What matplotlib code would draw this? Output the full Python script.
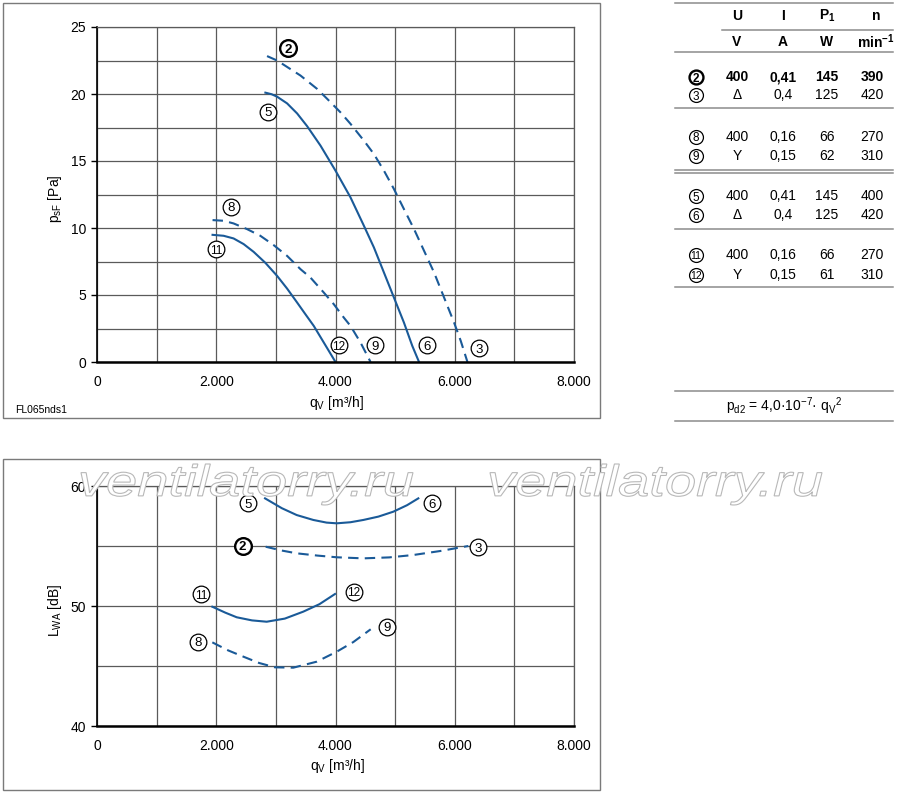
import numpy as np
import matplotlib
matplotlib.use('Agg')
import matplotlib.pyplot as plt
import matplotlib.transforms as mtransforms
from matplotlib.textpath import TextPath
from matplotlib.patches import PathPatch, Rectangle
from matplotlib.font_manager import FontProperties

plt.rcParams['font.family'] = ['Liberation Sans', 'DejaVu Sans']
plt.rcParams['mathtext.default'] = 'regular'

BLUE = '#1a5a98'
GRID = '#5a5a5a'
LINE = '#8c8c8c'

# ---- Kennlinien (Druck) ----
q_2_3 = [2852, 3020, 3412, 3692, 3860, 4084, 4252, 4476, 4644, 4812, 4980,
         5148, 5317, 5485, 5653, 5821, 5989, 6101, 6213]
p_2_3 = [22.83, 22.50, 21.38, 20.38, 19.64, 18.63, 17.77, 16.52, 15.52, 14.28, 12.91,
         11.41, 9.92, 8.30, 6.68, 4.81, 2.94, 1.57, 0.0]
q_5_6 = [2824, 2930, 3020, 3188, 3356, 3524, 3748, 4000, 4252, 4476, 4644, 4812,
         4980, 5148, 5288, 5401]
p_5_6 = [20.10, 19.98, 19.80, 19.30, 18.55, 17.60, 16.15, 14.28, 12.28, 10.17, 8.55, 6.68,
         4.81, 2.94, 1.20, 0.0]
q_8_9 = [1938, 2123, 2291, 2515, 2739, 2964, 3188, 3412, 3580, 3804, 3972,
         4140, 4252, 4420, 4588]
p_8_9 = [10.59, 10.54, 10.34, 9.92, 9.42, 8.72, 7.92, 6.93, 6.30, 5.18, 4.31,
         3.31, 2.69, 1.45, 0.0]
q_11_12 = [1938, 2123, 2291, 2459, 2627, 2824, 3020, 3188, 3356, 3496, 3636,
           3804, 4000]
p_11_12 = [9.49, 9.42, 9.22, 8.80, 8.22, 7.40, 6.43, 5.48, 4.44, 3.56, 2.69,
           1.45, 0.0]

# ---- Schallleistung ----
lq_5_6 = [2818, 3100, 3349, 3628, 3850, 4020, 4250, 4467, 4720, 4970, 5200, 5389]
lw_5_6 = [58.97, 58.15, 57.58, 57.17, 56.95, 56.89, 56.98, 57.17, 57.45, 57.86, 58.4, 58.97]
lq_2_3 = [2829, 3100, 3349, 3700, 4020, 4467, 4900, 5305, 5753, 6228]
lw_2_3 = [54.94, 54.62, 54.39, 54.2, 54.06, 53.97, 54.05, 54.25, 54.58, 55.0]
lq_11_12 = [1934, 2150, 2343, 2600, 2846, 3150, 3460, 3730, 3992]
lw_11_12 = [49.94, 49.45, 49.06, 48.8, 48.69, 48.95, 49.53, 50.15, 51.0]
lq_8_9 = [1934, 2200, 2454, 2720, 2985, 3292, 3685, 4020, 4300, 4590]
lw_8_9 = [46.97, 46.3, 45.78, 45.25, 44.89, 44.86, 45.36, 46.19, 47.0, 48.06]

# Kreisnummern an den Kurven
lbl_top = ['2', '5', '8', '11', '12', '9', '6', '3']
lbl_top_q = [3199, 2868, 2246, 1994, 4056, 4661, 5541, 6407]
lbl_top_p = [23.42, 18.69, 11.59, 8.42, 1.25, 1.25, 1.25, 1.04]
lbl_bot = ['5', '6', '2', '3', '11', '12', '8', '9']
lbl_bot_q = [2538, 5613, 2443, 6395, 1744, 4310, 1699, 4858]
lbl_bot_l = [58.56, 58.56, 55.0, 54.89, 50.97, 51.19, 47.03, 48.28]

# Tabelle
tbl_ids = ['2', '3', '8', '9', '5', '6', '11', '12']
tbl_U = ['400', 'Δ', '400', 'Y', '400', 'Δ', '400', 'Y']
tbl_I = ['0,41', '0,4', '0,16', '0,15', '0,41', '0,4', '0,16', '0,15']
tbl_P = ['145', '125', '66', '62', '145', '125', '66', '61']
tbl_n = ['390', '420', '270', '310', '400', '420', '270', '310']

xticks_major = [0, 2000, 4000, 6000, 8000]
xtick_labels = ['0', '2.000', '4.000', '6.000', '8.000']


def circ(ax, x, y, s, bold=False, ms=12, fs=9.5, transform=None):
    kw = {} if transform is None else {'transform': transform}
    ax.plot([x], [y], 'o', ms=ms, mfc='white', mec='black',
            mew=1.7 if bold else 0.9, zorder=6, clip_on=False, **kw)
    ax.text(x, y, s, ha='center', va='center_baseline', fontsize=fs if len(s) == 1 else fs - 1,
            fontweight='bold' if bold else 'normal', zorder=7, clip_on=False, **kw)


def style_axes(ax, ymaj, ymin):
    ax.set_xlim(0, 8000)
    ax.set_xticks(xticks_major)
    ax.set_xticklabels(xtick_labels)
    ax.set_xticks([1000, 3000, 5000, 7000], minor=True)
    ax.set_yticks(ymaj)
    ax.set_yticks(ymin, minor=True)
    ax.grid(which='both', color=GRID, lw=0.9)
    ax.set_axisbelow(True)
    ax.tick_params(axis='x', which='both', length=0, pad=9, labelsize=10)
    ax.tick_params(axis='y', which='major', length=4, width=1, pad=4, labelsize=10)
    ax.tick_params(axis='y', which='minor', length=0)
    ax.spines['left'].set_color('black')
    ax.spines['left'].set_linewidth(1.2)
    ax.spines['bottom'].set_color('black')
    ax.spines['bottom'].set_linewidth(1.8)
    for s in ['top', 'right']:
        ax.spines[s].set_color(GRID)
        ax.spines[s].set_linewidth(0.9)


fig = plt.figure(figsize=(9, 7.97), dpi=100)
ax1 = fig.add_axes([97 / 900, 1 - 362 / 797, 477 / 900, 335 / 797])
ax2 = fig.add_axes([97 / 900, 1 - 726 / 797, 477 / 900, 240 / 797])

# --- oben: Druck ---
ax1.set_ylim(0, 25)
style_axes(ax1, [0, 5, 10, 15, 20, 25], [2.5, 7.5, 12.5, 17.5, 22.5])
ax1.plot(q_2_3, p_2_3, color=BLUE, lw=1.5, dashes=(5, 3))
ax1.plot(q_5_6, p_5_6, color=BLUE, lw=1.5)
ax1.plot(q_8_9, p_8_9, color=BLUE, lw=1.5, dashes=(5, 3))
ax1.plot(q_11_12, p_11_12, color=BLUE, lw=1.5)
for s, x, y in zip(lbl_top, lbl_top_q, lbl_top_p):
    circ(ax1, x, y, s, bold=(s == '2'))

# --- unten: Schall ---
ax2.set_ylim(40, 60)
style_axes(ax2, [40, 50, 60], [45, 55])
ax2.plot(lq_5_6, lw_5_6, color=BLUE, lw=1.5)
ax2.plot(lq_2_3, lw_2_3, color=BLUE, lw=1.5, dashes=(5, 3))
ax2.plot(lq_11_12, lw_11_12, color=BLUE, lw=1.5)
ax2.plot(lq_8_9, lw_8_9, color=BLUE, lw=1.5, dashes=(5, 3))
for s, x, y in zip(lbl_bot, lbl_bot_q, lbl_bot_l):
    circ(ax2, x, y, s, bold=(s == '2'))

# --- Overlay in Pixelkoordinaten ---
ov = fig.add_axes([0, 0, 1, 1])
ov.set_xlim(0, 900)
ov.set_ylim(797, 0)
ov.axis('off')

ov.add_patch(Rectangle((3, 3), 597, 415, fill=False, ec='#7a7a7a', lw=1))
ov.add_patch(Rectangle((3, 459), 597, 331, fill=False, ec='#7a7a7a', lw=1))

ov.text(55, 199, 'p$_{sF}$ [Pa]', rotation=90, ha='center', va='center', fontsize=10)
ov.text(336, 403, 'q$_V$ [m³/h]', ha='center', va='center', fontsize=10)
ov.text(55, 610, 'L$_{WA}$ [dB]', rotation=90, ha='center', va='center', fontsize=10)
ov.text(337, 766, 'q$_V$ [m³/h]', ha='center', va='center', fontsize=10)
ov.text(15, 410, 'FL065nds1', ha='left', va='center', fontsize=7.5)

# Tabelle
for y in [3.3, 51.7, 108, 170, 173, 229, 287, 391, 421]:
    ov.plot([675, 893], [y, y], color=LINE, lw=1.1)
ov.plot([722, 893], [30, 30], color=LINE, lw=1.1)

col_x = [737, 783, 827, 872]
heads1 = ['U', 'I', 'P$_1$', 'n']
heads2 = ['V', 'A', 'W', 'min$^{-1}$']
for x, h1, h2 in zip(col_x, heads1, heads2):
    xx = x + 4 if h1 == 'n' else x
    ov.text(xx, 16, h1, ha='center', va='center', fontsize=10, fontweight='bold')
    ov.text(xx, 42, h2, ha='center', va='center', fontsize=10, fontweight='bold')

row_y = [77, 95, 136.5, 155.5, 196, 215, 255, 275]
for i, y in enumerate(row_y):
    bold = (i == 0)
    circ(ov, 696, y, tbl_ids[i], bold=bold, ms=10, fs=8.5)
    for x, v in zip(col_x, [tbl_U[i], tbl_I[i], tbl_P[i], tbl_n[i]]):
        ov.text(x, y, v, ha='center', va='center', fontsize=10,
                fontweight='bold' if bold else 'normal')

ov.text(784, 406, 'p$_{d2}$ = 4,0·10$^{-7}$· q$_V$$^2$', ha='center', va='center', fontsize=10)

# Wasserzeichen
tp = TextPath((0, 0), 'ventilatorry.ru', size=1,
              prop=FontProperties(family='Liberation Sans', style='italic'))
ext = tp.get_extents()
sx = 332 / ext.width
sy = 41 / ext.height
for x0 in [81, 490]:
    tr = mtransforms.Affine2D().scale(sx, -sy).translate(x0 - ext.x0 * sx, 464 + ext.y1 * sy)
    ov.add_patch(PathPatch(tr.transform_path(tp), fc='white', ec='#b8b8b8', lw=0.8, zorder=8))

fig.savefig('out.png', dpi=100)
